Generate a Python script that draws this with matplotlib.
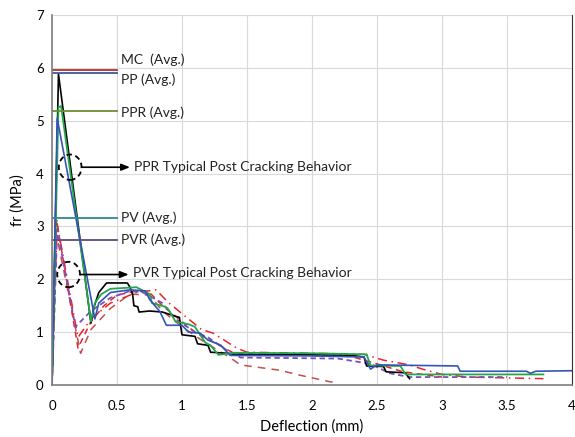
import matplotlib
matplotlib.use("Agg")
import matplotlib.pyplot as plt
from matplotlib.patches import Ellipse

plt.rcParams['font.family'] = ['Lato', 'DejaVu Sans']

# ---- data ----
pp_x = [0, 0.05, 0.30, 0.32, 0.36, 0.42, 0.58, 0.60, 0.62, 0.63, 0.66, 0.67, 0.75, 0.85, 0.95, 0.98, 1.00,
        1.10, 1.12, 1.20, 1.22, 1.35, 1.40, 2.00, 2.30, 2.40, 2.42, 2.55, 2.57, 2.72, 2.75]
pp_y = [0, 5.88, 1.17, 1.45, 1.75, 1.93, 1.93, 1.85, 1.72, 1.50, 1.48, 1.38, 1.40, 1.38, 1.30, 1.28, 0.95,
        0.92, 0.78, 0.75, 0.62, 0.60, 0.58, 0.57, 0.56, 0.53, 0.36, 0.35, 0.25, 0.23, 0.12]

ppr_x = [0, 0.05, 0.07, 0.30, 0.33, 0.38, 0.45, 0.65, 0.75, 0.77, 0.87, 0.89, 0.95, 1.05, 1.10, 1.18, 1.22,
         1.28, 1.40, 2.00, 2.42, 2.45, 2.68, 2.72, 3.78]
ppr_y = [0, 5.25, 5.28, 1.20, 1.55, 1.72, 1.82, 1.85, 1.72, 1.55, 1.48, 1.45, 1.20, 1.15, 1.10, 0.80, 0.75,
         0.57, 0.61, 0.60, 0.58, 0.37, 0.36, 0.20, 0.20]

pp2_x = [0, 0.04, 0.33, 0.36, 0.45, 0.60, 0.72, 0.75, 0.83, 0.88, 1.00, 1.05, 1.14, 1.20, 1.30, 1.37, 2.00,
         2.40, 2.45, 2.50, 3.12, 3.14, 3.65, 3.68, 3.72, 4.00]
pp2_y = [0, 5.05, 1.25, 1.55, 1.75, 1.80, 1.78, 1.62, 1.39, 1.13, 1.13, 1.00, 0.98, 0.85, 0.75, 0.56, 0.55,
         0.53, 0.30, 0.38, 0.36, 0.26, 0.26, 0.22, 0.26, 0.27]

pv_x = [0, 0.035, 0.20, 0.30, 0.40, 0.50, 0.65, 0.75, 0.85, 1.00, 1.10, 1.25, 1.40, 2.00, 2.30, 2.50, 2.70, 3.00]
pv_y = [0, 3.12, 0.70, 1.20, 1.50, 1.70, 1.78, 1.75, 1.50, 1.20, 1.00, 0.80, 0.60, 0.56, 0.54, 0.40, 0.25, 0.15]

pvdd_x = [0, 0.04, 0.20, 0.30, 0.45, 0.65, 0.80, 0.90, 1.06, 1.15, 1.24, 1.42, 1.50, 2.00, 2.40, 2.55, 2.75,
          2.85, 3.00, 3.20, 3.78]
pvdd_y = [0, 3.05, 0.90, 1.25, 1.55, 1.75, 1.80, 1.55, 1.23, 1.05, 0.98, 0.70, 0.62, 0.60, 0.58, 0.47, 0.38,
          0.30, 0.20, 0.15, 0.12]

pvr_x = [0, 0.04, 0.18, 0.30, 0.45, 0.60, 0.70, 0.85, 0.95, 1.10, 1.20, 1.35, 1.45, 2.20, 2.45, 2.60, 2.75, 3.50]
pvr_y = [0, 2.95, 1.10, 1.40, 1.65, 1.78, 1.75, 1.55, 1.25, 1.00, 0.90, 0.65, 0.52, 0.50, 0.40, 0.22, 0.15, 0.15]

pvb_x = [0, 0.03, 0.22, 0.30, 0.45, 0.60, 0.75, 0.85, 1.00, 1.15, 1.30, 1.35, 1.45, 1.75, 1.90, 2.14, 2.20]
pvb_y = [0, 2.90, 0.60, 1.05, 1.45, 1.72, 1.70, 1.40, 1.10, 0.85, 0.62, 0.55, 0.38, 0.28, 0.19, 0.06, 0.05]

avg_names = ["MC  (Avg.)", "PP (Avg.)", "PPR (Avg.)", "PV (Avg.)", "PVR (Avg.)"]
avg_vals = [5.95, 5.90, 5.19, 3.16, 2.75]
avg_label_y = [6.16, 5.77, 5.16, 3.16, 2.74]
avg_colors = ["#b03030", "#3a5a9a", "#6e8c3a", "#2f8595", "#5e4a80"]

fig = plt.figure(figsize=(5.75, 4.37), dpi=100)
ax = fig.add_axes([0.0904, 0.119, 0.9044, 0.8467])

ax.plot(pvb_x, pvb_y, color="#c0504d", lw=1.1, ls=(0, (5, 4)))
ax.plot(pv_x, pv_y, color="#e8242a", lw=1.1, ls=(0, (4, 3)))
ax.plot(pvdd_x, pvdd_y, color="#e8242a", lw=1.1, ls=(0, (6, 3, 1, 3)))
ax.plot(pvr_x, pvr_y, color="#7a4fc0", lw=1.3, ls=(0, (3, 2)))
ax.plot(pp_x, pp_y, color="black", lw=1.2)
ax.plot(ppr_x, ppr_y, color="#22a84a", lw=1.3)
ax.plot(pp2_x, pp2_y, color="#3355b5", lw=1.2)

for v, ly, n, c in zip(avg_vals, avg_label_y, avg_names, avg_colors):
    ax.plot([0, 0.5], [v, v], color=c, lw=1.3)
    ax.text(0.53, ly, n, fontsize=10, va="center", ha="left", color="#222222")

for cx, cy, tx, ty, lab in [(0.14, 4.12, 0.63, 4.12, "PPR Typical Post Cracking Behavior"),
                            (0.128, 2.09, 0.62, 2.12, "PVR Typical Post Cracking Behavior")]:
    ax.add_patch(Ellipse((cx, cy), 0.175, 0.48, fill=False, ec="black", lw=1.3, ls=(0, (3, 2)), zorder=5))
    ax.annotate("", xy=(tx - 0.03, cy), xytext=(cx + 0.0875, cy),
                arrowprops=dict(arrowstyle="-|>,head_length=0.5,head_width=0.2", color="black", lw=1.2,
                                shrinkA=0, shrinkB=0))
    ax.text(tx, ty, lab, fontsize=10, va="center", ha="left", color="#222222")

ax.set_xlim(0, 4)
ax.set_ylim(0, 7)
ax.set_xticks([0, 0.5, 1, 1.5, 2, 2.5, 3, 3.5, 4])
ax.set_xticklabels(["0", "0.5", "1", "1.5", "2", "2.5", "3", "3.5", "4"])
ax.set_yticks(range(0, 8))
ax.grid(True, color="#d9d9d9", lw=0.8)
ax.set_axisbelow(True)
ax.tick_params(axis="x", length=0, labelsize=9.5, pad=11)
ax.tick_params(axis="y", length=0, labelsize=9.5, pad=6)
for s in ["top"]:
    ax.spines[s].set_visible(False)
ax.spines["left"].set_color("#7f7f7f")
ax.spines["bottom"].set_color("#7f7f7f")
ax.spines["right"].set_color("#333333")
ax.spines["left"].set_linewidth(1.2)
ax.spines["bottom"].set_linewidth(1.2)
ax.set_xlabel("Deflection (mm)", fontsize=10.5, labelpad=5)
ax.set_ylabel("fr (MPa)", fontsize=10.5, labelpad=8)

fig.savefig("out.png", dpi=100)
